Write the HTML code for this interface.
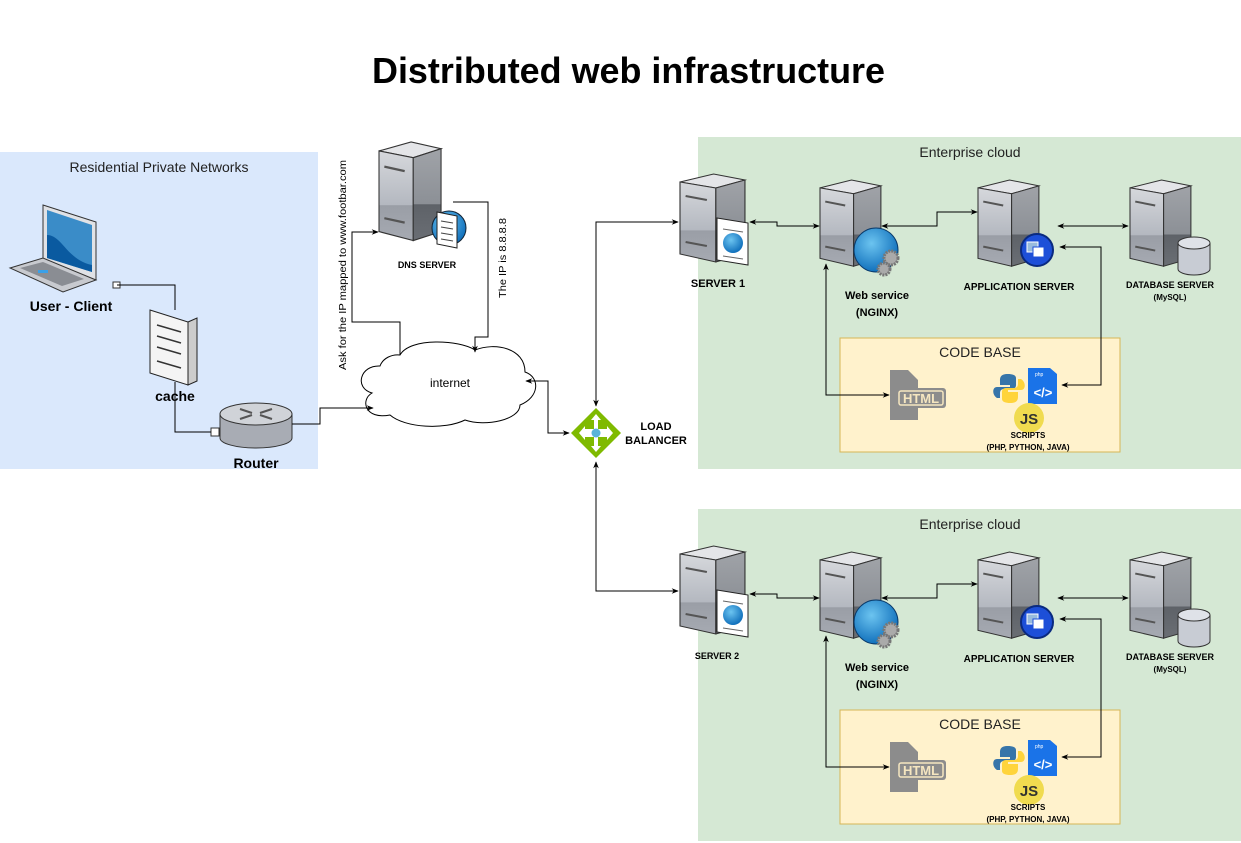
<!DOCTYPE html>
<html><head><meta charset="utf-8"><style>
html,body{margin:0;padding:0;background:#fff;}
svg{display:block;font-family:"Liberation Sans",Arial,sans-serif;}
</style></head><body>
<svg width="1241" height="843" viewBox="0 0 1241 843" xmlns="http://www.w3.org/2000/svg">
<defs>
<marker id="ar" viewBox="0 0 10 10" refX="9" refY="5" markerWidth="7" markerHeight="7" orient="auto-start-reverse"><path d="M0,1 L10,5 L0,9 L3,5 z" fill="#000"/></marker>
<linearGradient id="fr" x1="0" y1="0" x2="0" y2="1"><stop offset="0" stop-color="#d6d8dc"/><stop offset="0.6" stop-color="#b4b8c0"/><stop offset="0.61" stop-color="#9a9ea6"/><stop offset="1" stop-color="#a6aab2"/></linearGradient>
<linearGradient id="sd" x1="0" y1="0" x2="0" y2="1"><stop offset="0" stop-color="#a0a3a8"/><stop offset="0.6" stop-color="#8c9096"/><stop offset="0.61" stop-color="#5e6268"/><stop offset="1" stop-color="#6a6e74"/></linearGradient>
<radialGradient id="gl" cx="0.4" cy="0.35" r="0.7"><stop offset="0" stop-color="#6cc4f0"/><stop offset="1" stop-color="#0a6ab8"/></radialGradient>
<g id="srv">
<polygon points="0,8 30,0 58,6 32,14" fill="#e4e5e8" stroke="#333" stroke-width="1"/>
<polygon points="0,8 32,14 32,88 0,80" fill="url(#fr)" stroke="#333" stroke-width="1"/>
<polygon points="32,14 58,6 58,80 32,88" fill="url(#sd)" stroke="#333" stroke-width="1"/>
<line x1="5" y1="22" x2="24" y2="26" stroke="#555" stroke-width="2"/>
<line x1="5" y1="68" x2="24" y2="72" stroke="#555" stroke-width="2"/>
</g>
<g id="ent">
<rect x="698" y="137" width="543" height="332" fill="#d5e8d4"/>
<use href="#srv" transform="translate(680,174) scale(1.12,1)"/>
<polygon points="717,218 748,223 748,265 717,260" fill="#fff" stroke="#222"/>
<circle cx="733" cy="243" r="10" fill="url(#gl)"/>
<line x1="723" y1="229" x2="743" y2="232" stroke="#666"/><line x1="723" y1="256" x2="743" y2="259" stroke="#666"/>
<use href="#srv" transform="translate(820,180) scale(1.05,0.98)"/>
<circle cx="876" cy="250" r="22" fill="url(#gl)" stroke="#0a3a6a"/>
<circle cx="891" cy="258" r="7" fill="#aaa" stroke="#777" stroke-dasharray="2,1" stroke-width="3"/>
<circle cx="884" cy="269" r="6" fill="#aaa" stroke="#777" stroke-dasharray="2,1" stroke-width="3"/>
<use href="#srv" transform="translate(978,180) scale(1.05,0.98)"/>
<circle cx="1037" cy="250" r="16" fill="#1d4fd8" stroke="#0a2a80" stroke-width="2"/>
<rect x="1027" y="242" width="11" height="10" fill="#9bd" stroke="#fff"/><rect x="1033" y="247" width="11" height="10" fill="#fff" stroke="#1d4fd8"/>
<use href="#srv" transform="translate(1130,180) scale(1.05,0.98)"/>
<path d="M1178,243 v26 a16,6 0 0 0 32,0 v-26" fill="#c8ccd4" stroke="#333"/>
<ellipse cx="1194" cy="243" rx="16" ry="6" fill="#dfe2e8" stroke="#333"/>
<rect x="840" y="338" width="280" height="114" fill="#fff2cc" stroke="#d6b656"/>
<path d="M890,370 h18 l10,10 v40 h-28 z" fill="#8c8c8c"/>
<rect x="896" y="388" width="50" height="20" rx="3" fill="#8c8c8c"/>
<rect x="899" y="391" width="44" height="14" rx="2" fill="none" stroke="#f5e6c0" stroke-width="1.5"/>
<text x="921" y="403" font-size="13" font-weight="bold" fill="#f5e6c0" text-anchor="middle">HTML</text>
<path d="M1008,374 c-8,0 -8,4 -8,7 v4 h10 v2 h-13 c-5,0 -5,8 0,11 h3 v-5 c0,-3 2,-4 4,-4 h8 c3,0 4,-2 4,-4 v-7 c0,-3 -4,-4 -8,-4z" fill="#3775a9"/>
<path d="M1010,403 c8,0 8,-4 8,-7 v-4 h-10 v-2 h13 c5,0 5,-8 0,-11 h-3 v5 c0,3 -2,4 -4,4 h-8 c-3,0 -4,2 -4,4 v7 c0,3 4,4 8,4z" fill="#ffd43b"/>
<path d="M1028,368 h22 l7,6 v30 h-29 z" fill="#1a73e8"/>
<text x="1035" y="376" font-size="5" fill="#fff">php</text>
<text x="1043" y="397" font-size="13" font-weight="bold" fill="#fff" text-anchor="middle">&lt;/&gt;</text>
<circle cx="1029" cy="418" r="15" fill="#f0db4f"/>
<text x="1029" y="424" font-size="15" font-weight="bold" fill="#323330" text-anchor="middle">JS</text>
<g fill="none" stroke="#000" stroke-width="1">
<polyline points="750,222 777,222 777,226 819,226" marker-start="url(#ar)" marker-end="url(#ar)"/>
<polyline points="882,226 937,226 937,212 977,212" marker-start="url(#ar)" marker-end="url(#ar)"/>
<polyline points="1058,226 1128,226" marker-start="url(#ar)" marker-end="url(#ar)"/>
<polyline points="1060,247 1101,247 1101,385 1062,385" marker-start="url(#ar)" marker-end="url(#ar)"/>
<polyline points="826,264 826,395 889,395" marker-start="url(#ar)" marker-end="url(#ar)"/>
</g>
</g>
</defs>

<text x="372" y="83" font-size="36" font-weight="bold" textLength="513" lengthAdjust="spacingAndGlyphs">Distributed web infrastructure</text>

<rect x="0" y="152" width="318" height="317" fill="#dae8fc"/>
<text x="159" y="172" font-size="14" text-anchor="middle" fill="#222">Residential Private Networks</text>
<polygon points="43,205 96,222 96,280 43,263" fill="#e0e2e6" stroke="#333"/>
<polygon points="47,210 92,225 92,272 47,258" fill="#3a8cc8"/>
<path d="M47,235 c15,0 20,25 45,30 v7 l-45,-14z" fill="#0a5aa0"/>
<polygon points="10,268 43,258 96,280 63,292" fill="#c8cacf" stroke="#333"/>
<polygon points="20,268 43,262 84,279 62,286" fill="#8a8d93"/>
<rect x="38" y="270" width="10" height="3" fill="#3aa0e8"/>
<text x="71" y="311" font-size="14" font-weight="bold" text-anchor="middle">User - Client</text>
<polygon points="150,310 188,322 188,385 150,373" fill="#f4f4f4" stroke="#222"/>
<polygon points="188,322 197,318 197,381 188,385" fill="#ccc" stroke="#222"/>
<g stroke="#333" stroke-width="1.5"><line x1="157" y1="325" x2="181" y2="332"/><line x1="157" y1="336" x2="181" y2="343"/><line x1="157" y1="347" x2="181" y2="354"/><line x1="157" y1="361" x2="181" y2="368"/></g>
<text x="175" y="401" font-size="14" font-weight="bold" text-anchor="middle">cache</text>
<path d="M220,414 v24 a36,10 0 0 0 72,0 v-24" fill="#a8acb4" stroke="#333"/>
<ellipse cx="256" cy="414" rx="36" ry="11" fill="#d0d3d8" stroke="#333"/>
<g stroke="#555" stroke-width="2"><line x1="240" y1="409" x2="252" y2="413"/><line x1="260" y1="415" x2="272" y2="419"/><line x1="240" y1="419" x2="252" y2="415"/><line x1="260" y1="413" x2="272" y2="409"/></g>
<rect x="211" y="428" width="8" height="8" fill="#fff" stroke="#333"/>
<rect x="113" y="282" width="7" height="6" fill="#fff" stroke="#333"/>
<text x="256" y="468" font-size="14" font-weight="bold" text-anchor="middle">Router</text>

<use href="#srv" transform="translate(379,142) scale(1.07,1.12)"/>
<circle cx="449" cy="228" r="17" fill="url(#gl)" stroke="#123"/>
<polygon points="437,212 457,216 457,248 437,244" fill="#fff" stroke="#222"/>
<g stroke="#444"><line x1="441" y1="221" x2="453" y2="223"/><line x1="441" y1="227" x2="453" y2="229"/><line x1="441" y1="233" x2="453" y2="235"/><line x1="441" y1="239" x2="453" y2="241"/></g>
<text x="427" y="268" font-size="9" font-weight="bold" text-anchor="middle">DNS SERVER</text>
<text transform="translate(346,370) rotate(-90)" font-size="10" textLength="210" lengthAdjust="spacingAndGlyphs">Ask for the IP mapped to  www.footbar.com</text>
<text transform="translate(506,298) rotate(-90)" font-size="10" textLength="80" lengthAdjust="spacingAndGlyphs">The IP is 8.8.8.8</text>

<path d="M400,355 c10,-18 60,-15 75,-5 c20,-8 50,-2 50,22 c15,5 15,25 -5,33 c0,15 -35,22 -55,15 c-20,10 -60,8 -75,-5 c-25,5 -30,-15 -18,-22 c-18,-5 -12,-28 8,-27 c3,-8 12,-12 20,-11z" fill="#fff" stroke="#000"/>
<text x="450" y="387" font-size="12" text-anchor="middle">internet</text>

<polygon points="596,408 621,433 596,458 571,433" fill="#7fba00"/>
<path d="M596,414 l5,6 h-3 v9 h9 v-3 l6,7 -6,7 v-3 h-9 v9 h3 l-5,6 -5,-6 h3 v-9 h-9 v3 l-6,-7 6,-7 v3 h9 v-9 h-3z" fill="#fff"/>
<circle cx="596" cy="433" r="4.5" fill="#59b4d9"/>
<text x="656" y="430" font-size="11" font-weight="bold" text-anchor="middle">LOAD</text>
<text x="656" y="444" font-size="11" font-weight="bold" text-anchor="middle">BALANCER</text>

<g fill="none" stroke="#000" stroke-width="1">
<polyline points="117,285 175,285 175,310"/>
<polyline points="175,382 175,432 211,432"/>
<polyline points="292,424 320,424 320,408 373,408" marker-end="url(#ar)"/>
<polyline points="400,355 400,322 352,322 352,232 378,232" marker-end="url(#ar)"/>
<polyline points="453,202 488,202 488,337 475,337 475,352" marker-end="url(#ar)"/>
<polyline points="526,381 548,381 548,433 569,433" marker-start="url(#ar)" marker-end="url(#ar)"/>
<polyline points="678,222 596,222 596,406" marker-start="url(#ar)" marker-end="url(#ar)"/>
<polyline points="596,462 596,591 678,591" marker-start="url(#ar)" marker-end="url(#ar)"/>
</g>

<use href="#ent"/>
<use href="#ent" transform="translate(0,372)"/>

<g font-size="14" text-anchor="middle" fill="#222"><text x="970" y="157">Enterprise cloud</text><text x="970" y="529">Enterprise cloud</text>
<text x="980" y="357">CODE BASE</text><text x="980" y="729">CODE BASE</text></g>
<g font-weight="bold" text-anchor="middle">
<text x="718" y="287" font-size="11">SERVER 1</text>
<text x="717" y="659" font-size="9">SERVER 2</text>
<text x="877" y="299" font-size="11">Web service</text><text x="877" y="316" font-size="11">(NGINX)</text>
<text x="877" y="671" font-size="11">Web service</text><text x="877" y="688" font-size="11">(NGINX)</text>
<text x="1019" y="290" font-size="10">APPLICATION SERVER</text><text x="1019" y="662" font-size="10">APPLICATION SERVER</text>
<text x="1170" y="288" font-size="9">DATABASE SERVER</text><text x="1170" y="300" font-size="8">(MySQL)</text>
<text x="1170" y="660" font-size="9">DATABASE SERVER</text><text x="1170" y="672" font-size="8">(MySQL)</text>
<text x="1028" y="438" font-size="8">SCRIPTS</text><text x="1028" y="450" font-size="8">(PHP, PYTHON, JAVA)</text>
<text x="1028" y="810" font-size="8">SCRIPTS</text><text x="1028" y="822" font-size="8">(PHP, PYTHON, JAVA)</text>
</g>
</svg>
</body></html>
